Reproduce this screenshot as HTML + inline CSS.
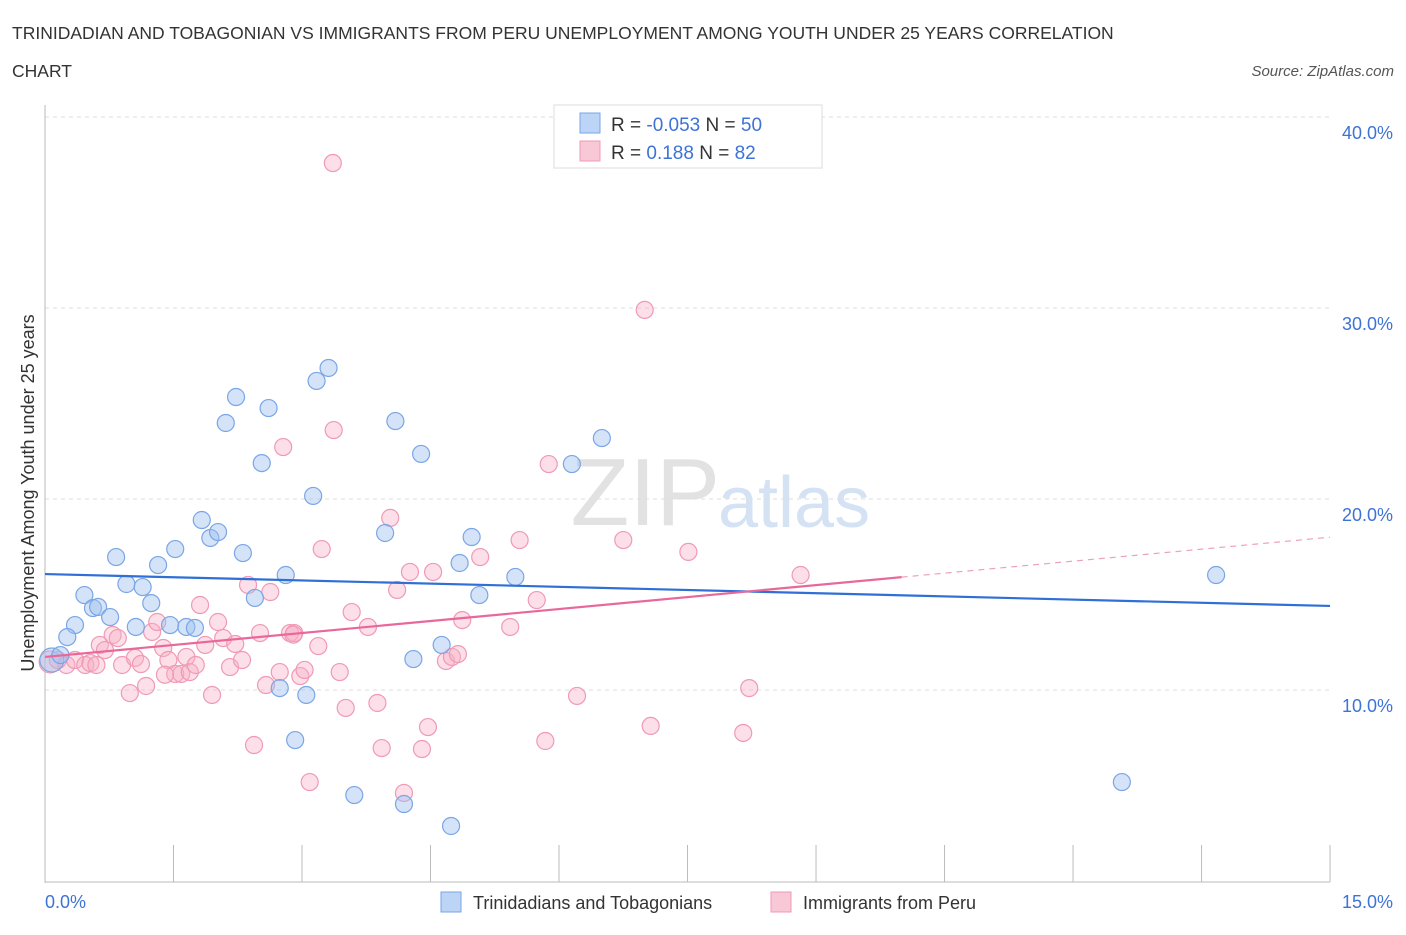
<!DOCTYPE html>
<html><head><meta charset="utf-8"><style>
body{margin:0;background:#fff;font-family:"Liberation Sans",sans-serif}
svg text{font-family:"Liberation Sans",sans-serif}
</style></head><body>
<svg id="c" width="1406" height="930" xmlns="http://www.w3.org/2000/svg">
<text x="12" y="39" font-size="17.5" fill="#333">TRINIDADIAN AND TOBAGONIAN VS IMMIGRANTS FROM PERU UNEMPLOYMENT AMONG YOUTH UNDER 25 YEARS CORRELATION</text>
<text x="12" y="77" font-size="17.5" fill="#333">CHART</text>
<text x="1394" y="76" font-size="15" fill="#555" font-style="italic" text-anchor="end">Source: ZipAtlas.com</text>
<text x="720" y="525" font-size="96" fill="#e2e2e2" text-anchor="end" font-family="Liberation Serif">ZIP</text>
<text x="718" y="527" font-size="72" fill="#d4e2f4">atlas</text>
<g id="grid"></g>
<line x1="45" y1="105" x2="45" y2="883" stroke="#bbb"/>
<line x1="45" y1="882" x2="1330" y2="882" stroke="#bbb"/>
<g id="ticks"></g>
<text transform="translate(34,493) rotate(-90)" font-size="18" fill="#333" text-anchor="middle">Unemployment Among Youth under 25 years</text>
<text x="45" y="908" font-size="18" fill="#3d73d6">0.0%</text>
<text x="1393" y="908" font-size="18" fill="#3d73d6" text-anchor="end">15.0%</text>
<g id="pts"></g>
<g id="lines"></g>
<g>
<rect x="554" y="105" width="268" height="63" fill="#fff" stroke="#ddd"/>
<rect x="580" y="113" width="20" height="20" fill="#bcd4f5" stroke="#7aa6e6"/>
<rect x="580" y="141" width="20" height="20" fill="#f9c8d6" stroke="#f09ab5"/>
<text x="611" y="131" font-size="19" fill="#333">R = <tspan fill="#3d73d6">-0.053</tspan>   N = <tspan fill="#3d73d6">50</tspan></text>
<text x="611" y="159" font-size="19" fill="#333">R =   <tspan fill="#3d73d6"> 0.188</tspan>   N =  <tspan fill="#3d73d6">82</tspan></text>
</g>
<rect x="441" y="892" width="20" height="20" fill="#bcd4f5" stroke="#7aa6e6"/>
<text x="473" y="909" font-size="18" fill="#333">Trinidadians and Tobagonians</text>
<rect x="771" y="892" width="20" height="20" fill="#f9c8d6" stroke="#f09ab5"/>
<text x="803" y="909" font-size="18" fill="#333">Immigrants from Peru</text>
</svg>
<script>
const yTicks=[10,20,30,40];
const yTickLabels=["10.0%","20.0%","30.0%","40.0%"];
const xTickVals=[0,1.5,3,4.5,6,7.5,9,10.5,12,13.5,15];
const blueX=[0.08,0.18,0.35,0.26,0.46,0.56,0.62,0.76,0.83,0.95,1.06,1.14,1.24,1.32,1.46,1.52,1.65,1.75,1.83,1.93,2.02,2.11,2.23,2.31,2.45,2.53,2.61,2.74,2.81,2.92,3.05,3.13,3.17,3.31,3.61,3.97,4.09,4.19,4.30,4.39,4.63,4.74,4.84,4.98,5.07,5.49,6.15,6.50,12.57,13.67];
const blueY=[11.57,11.83,13.40,12.77,14.97,14.29,14.35,13.82,16.96,15.55,13.30,15.39,14.55,16.54,13.40,17.38,13.30,13.25,18.90,17.96,18.27,23.98,25.34,17.17,14.82,21.88,24.76,10.10,16.02,7.38,9.74,20.16,26.18,26.86,4.50,18.22,24.08,4.03,11.62,22.36,12.36,2.88,16.65,18.01,14.97,15.92,21.83,23.19,5.18,16.02];
const pinkX=[0.06,0.15,0.25,0.35,0.47,0.53,0.60,0.64,0.70,0.79,0.85,0.90,0.99,1.05,1.12,1.18,1.25,1.31,1.38,1.44,1.52,1.59,1.65,1.69,1.76,1.81,1.87,1.95,2.02,2.08,2.16,2.22,2.30,2.37,2.44,2.51,2.58,2.63,2.78,2.74,2.86,2.91,2.98,3.03,3.09,3.19,3.23,3.37,3.44,3.51,3.36,3.58,3.77,3.88,3.93,4.03,4.11,4.26,4.40,4.47,4.53,4.68,4.75,4.82,4.87,5.08,5.43,5.54,5.74,5.84,5.88,6.21,6.75,7.00,7.07,7.51,8.15,8.22,8.82,4.19,1.40,2.90];
const pinkY=[11.47,11.57,11.31,11.57,11.31,11.41,11.31,12.36,12.09,12.88,12.72,11.31,9.84,11.68,11.36,10.21,13.04,13.56,12.20,11.57,10.84,10.84,11.73,10.94,11.31,14.45,12.36,9.74,13.56,12.72,11.20,12.41,11.57,15.50,7.12,12.98,10.26,15.13,22.72,10.94,12.98,12.98,10.73,11.05,5.18,12.30,17.38,23.61,10.94,9.06,37.59,14.08,13.30,9.32,6.96,19.01,15.24,16.18,6.91,8.06,16.18,11.52,11.73,11.88,13.66,16.96,13.30,17.85,14.71,7.33,21.83,9.69,17.85,29.90,8.12,17.23,7.75,10.10,16.02,4.61,10.8,12.9];
const blueTrend=[16.07,14.40];
const pinkTrend=[11.73,18.0];
const pinkSolidEnd=10.0;
const NS="http://www.w3.org/2000/svg";
const X=v=>45+v*85.67, Y=v=>881-v*19.1;
function mk(t,a,p){const e=document.createElementNS(NS,t);for(const k in a)e.setAttribute(k,a[k]);p.appendChild(e);return e;}
const grid=document.getElementById('grid'),ticks=document.getElementById('ticks');
yTicks.forEach((t,i)=>{
 const l=mk('line',{x1:45,x2:1330,y1:Y(t),y2:Y(t),stroke:'#ddd','stroke-dasharray':'4,4'},grid);
 
 
 const tx=mk('text',{x:1393,y:Y(t)+22,'font-size':18,fill:'#3d73d6','text-anchor':'end'},ticks);
 tx.textContent=yTickLabels[i];
 
 
});
xTickVals.forEach(v=>{
 const l=mk('line',{x1:X(v),x2:X(v),y1:845,y2:882,stroke:'#bbb'},ticks);
 
 
});
const pts=document.getElementById('pts');
pinkX.forEach((x,i)=>{
 const c=mk('circle',{cx:X(x),cy:Y(pinkY[i]),r:i==0?11:8.5,fill:'rgba(247,175,198,0.4)',stroke:'#f09ab5','stroke-width':1.2},pts);
 
 
});
blueX.forEach((x,i)=>{
 const c=mk('circle',{cx:X(x),cy:Y(blueY[i]),r:i==0?12:8.5,fill:'rgba(160,194,240,0.45)',stroke:'#7aa6e6','stroke-width':1.2},pts);
 
 
});
const lines=document.getElementById('lines');
const bl=mk('line',{x1:X(0),y1:Y(blueTrend[0]),x2:X(15),y2:Y(blueTrend[1]),stroke:'#2f6fd6','stroke-width':2.2},lines);


const pm=pinkTrend[0]+(pinkTrend[1]-pinkTrend[0])*pinkSolidEnd/15;
const pl=mk('line',{x1:X(0),y1:Y(pinkTrend[0]),x2:X(pinkSolidEnd),y2:Y(pm),stroke:'#e8689a','stroke-width':2.2},lines);


const pd=mk('line',{x1:X(pinkSolidEnd),y1:Y(pm),x2:X(15),y2:Y(pinkTrend[1]),stroke:'#eea0bb','stroke-width':1.2,'stroke-dasharray':'6,5'},lines);


</script>
</body></html>
